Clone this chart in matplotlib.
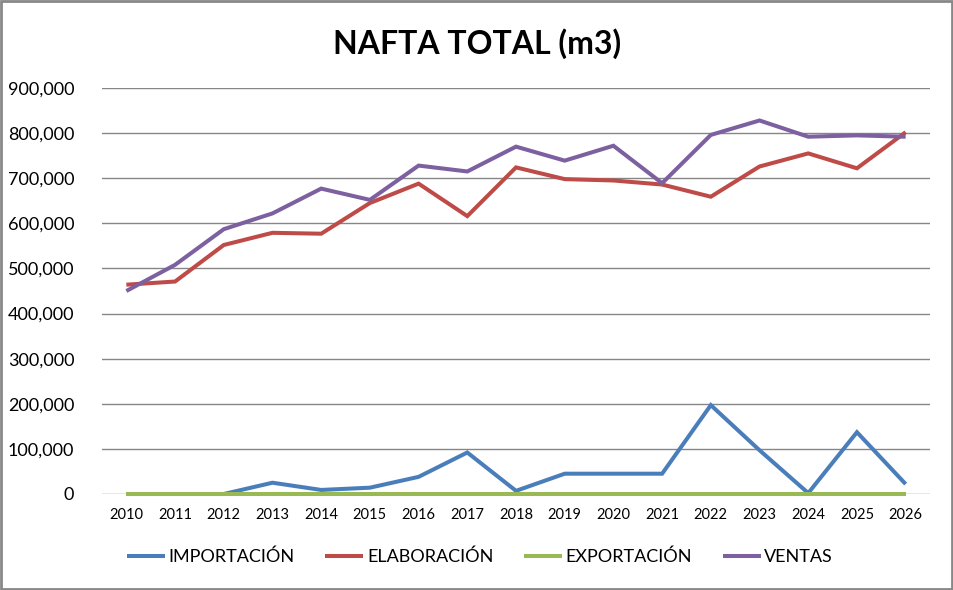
import matplotlib
matplotlib.use("Agg")
import matplotlib.pyplot as plt
from matplotlib.patches import Rectangle

years = [str(y) for y in range(2010, 2027)]
importacion = [0, 0, 0, 25000, 9000, 14000, 38000, 92000, 7000, 45000, 45000, 45000, 197000, 97000, 2000, 137000, 22000]
elaboracion = [464000, 471000, 552000, 579000, 577000, 645000, 688000, 616000, 724000, 698000, 695000, 686000, 659000, 726000, 755000, 722000, 802000]
exportacion = [0] * 17
ventas = [450000, 508000, 587000, 622000, 677000, 652000, 728000, 715000, 770000, 739000, 772000, 689000, 796000, 828000, 792000, 795000, 792000]

series_names = ["IMPORTACIÓN", "ELABORACIÓN", "EXPORTACIÓN", "VENTAS"]
colors = ["#4A7EBB", "#BE4B48", "#98B954", "#7D60A0"]
yticks = list(range(0, 900001, 100000))

plt.rcParams['font.family'] = ['Lato', 'DejaVu Sans']

fig = plt.figure(figsize=(9.54, 5.90), dpi=100)
ax = fig.add_axes([102/954, 1-494/590, (930-102)/954, (494-88)/590])

x = list(range(len(years)))
for vals, name, c in zip([importacion, elaboracion, exportacion, ventas], series_names, colors):
    ax.plot(x, vals, color=c, lw=2.9, label=name, solid_joinstyle='miter',
            solid_capstyle='butt', clip_on=False)

ax.set_xlim(-0.5, len(years) - 0.5)
ax.set_ylim(0, 900000)
ax.set_yticks(yticks)
ax.set_yticklabels([f"{v:,}" for v in yticks], fontsize=13)
ax.set_xticks(x)
ax.set_xticklabels(years, fontsize=10.5)
ax.tick_params(axis='both', length=0)
ax.tick_params(axis='y', pad=20)
ax.tick_params(axis='x', pad=10)
ax.yaxis.grid(True, color="#868686", lw=1.0)
ax.set_axisbelow(True)
for s in ax.spines.values():
    s.set_visible(False)

fig.text(0.5, 1-44/590, "NAFTA TOTAL (m3)", ha='center', va='center', fontsize=23, fontweight='bold')

fig.legend(loc='center', bbox_to_anchor=(480/954, 1-557/590), ncol=4, frameon=False,
           fontsize=13, handlelength=2.1, handletextpad=0.2, columnspacing=1.7)

fig.patches.append(Rectangle((0.001, 0.002), 0.997, 0.996, transform=fig.transFigure,
                             fill=False, edgecolor="#888888", lw=2.0))

fig.savefig("out.png", dpi=100)
